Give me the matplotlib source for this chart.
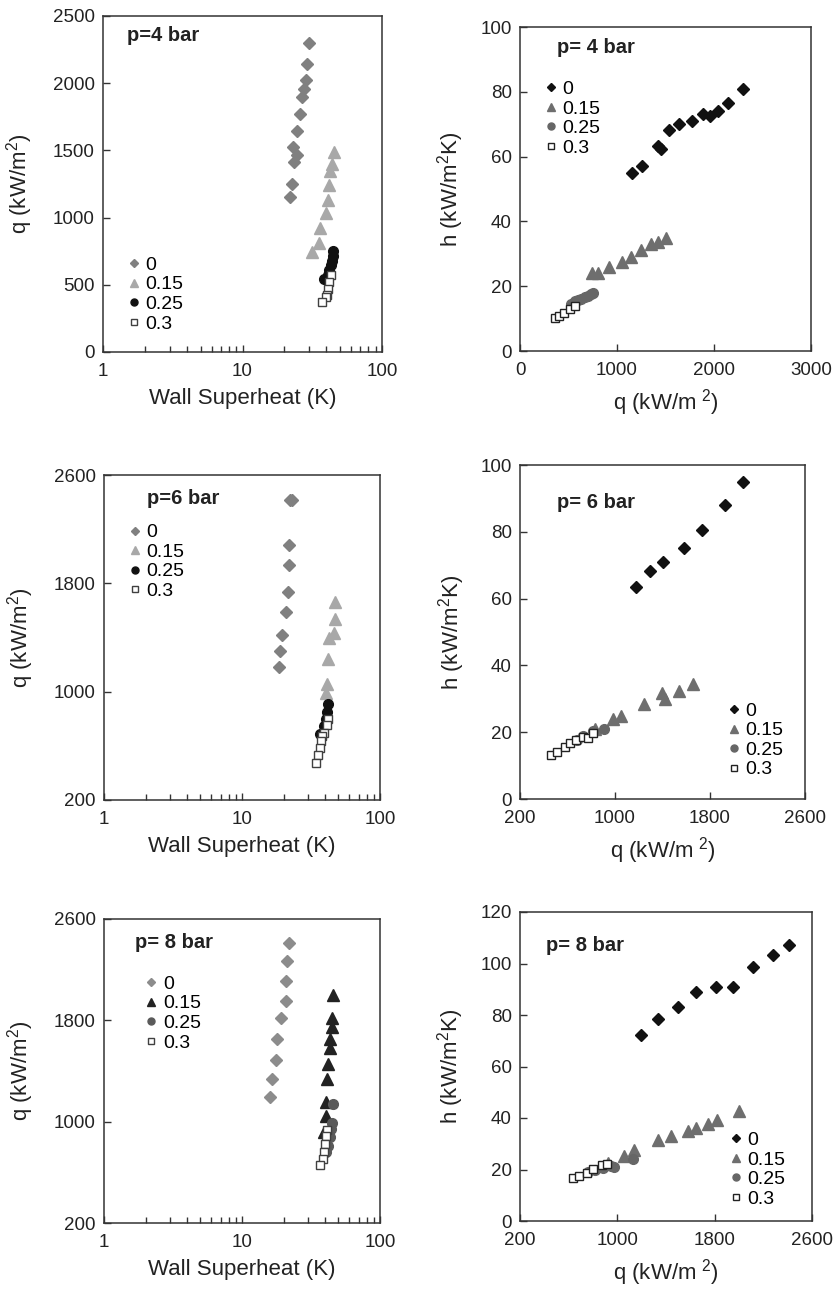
import matplotlib
matplotlib.use("Agg")
import matplotlib.pyplot as plt
from matplotlib.lines import Line2D

plt.rcParams['font.family'] = ['Liberation Sans', 'DejaVu Sans']
plt.rcParams['mathtext.default'] = 'regular'

# ---- p = 4 bar ----
dT4_0 = [29.9, 29.1, 28.3, 27.5, 26.9, 25.7, 24.6, 23.2, 24.6, 23.4, 22.8, 21.8]
q4_0 = [2298, 2145, 2026, 1954, 1897, 1768, 1642, 1528, 1469, 1417, 1250, 1152]
dT4_15 = [45.3, 43.8, 42.6, 41.9, 40.7, 39.9, 36.1, 35.3, 31.6]
q4_15 = [1488, 1402, 1345, 1246, 1129, 1035, 919, 812, 745]
dT4_25 = [44.8, 44.2, 43.5, 42.8, 42.0, 40.8, 38.5]
q4_25 = [755, 715, 680, 645, 610, 575, 545]
dT4_3 = [42.8, 41.7, 41.2, 40.3, 39.5, 37.3]
q4_3 = [574, 520, 470, 421, 411, 374]

qr4_0 = [1156, 1253, 1419, 1453, 1536, 1642, 1770, 1890, 1960, 2039, 2149, 2294]
h4_0 = [55.0, 57.2, 63.4, 62.3, 68.1, 70.2, 71.1, 73.1, 72.6, 74.1, 76.6, 81.0]
qr4_15 = [739, 805, 918, 1047, 1140, 1246, 1346, 1419, 1505]
h4_15 = [24.2, 24.0, 26.0, 27.4, 29.0, 31.2, 33.0, 33.5, 34.8]
qr4_25 = [753, 730, 701, 667, 630, 600, 564, 530]
h4_25 = [17.8, 17.5, 17.1, 16.6, 16.2, 15.8, 15.3, 14.6]
qr4_3 = [360, 401, 450, 512, 564]
h4_3 = [10.1, 10.9, 11.8, 13.1, 14.0]

# ---- p = 6 bar ----
dT6_0 = [22.2, 23.0, 21.8, 21.8, 21.4, 20.7, 19.5, 18.8, 18.4]
q6_0 = [2418, 2413, 2086, 1938, 1736, 1588, 1418, 1300, 1182]
dT6_15 = [47.1, 47.1, 46.3, 42.6, 42.1, 41.4, 40.7]
q6_15 = [1662, 1534, 1431, 1399, 1239, 1059, 993]
dT6_25 = [42.1, 41.4, 40.4, 39.0, 36.9]
q6_25 = [911, 849, 800, 746, 684]
dT6_3 = [42.1, 41.0, 39.0, 38.2, 37.2, 36.5, 35.6, 34.1]
q6_3 = [795, 751, 697, 672, 638, 586, 529, 476]

qr6_0 = [1177, 1295, 1407, 1581, 1730, 1924, 2080]
h6_0 = [63.5, 68.3, 71.0, 75.1, 80.6, 88.1, 94.9]
qr6_15 = [832, 986, 1050, 1242, 1393, 1423, 1536, 1654]
h6_15 = [21.1, 24.1, 24.8, 28.5, 31.8, 30.0, 32.2, 34.3]
qr6_25 = [677, 733, 817, 907]
h6_25 = [17.8, 18.8, 20.3, 21.0]
qr6_3 = [461, 514, 579, 621, 672, 728, 775, 817]
h6_3 = [13.2, 14.2, 15.7, 16.7, 17.7, 18.7, 18.4, 19.7]

# ---- p = 8 bar ----
dT8_0 = [21.8, 21.3, 20.9, 20.7, 19.3, 18.0, 17.5, 16.6, 16.0]
q8_0 = [2412, 2268, 2111, 1949, 1818, 1653, 1489, 1335, 1191]
dT8_15 = [46.0, 45.0, 45.0, 43.5, 43.1, 42.1, 41.4, 40.3, 40.3, 39.6]
q8_15 = [2002, 1818, 1747, 1649, 1583, 1452, 1335, 1157, 1047, 916]
dT8_25 = [45.5, 45.0, 44.3, 43.1, 42.1, 40.7]
q8_25 = [1136, 990, 940, 877, 810, 759]
dT8_3 = [41.4, 40.3, 39.9, 39.2, 38.9, 36.9]
q8_3 = [935, 883, 820, 757, 704, 660]

qr8_0 = [1195, 1335, 1496, 1647, 1811, 1948, 2112, 2276, 2413]
h8_0 = [72.2, 78.3, 83.3, 89.1, 90.8, 90.8, 98.6, 103.4, 107.3]
qr8_15 = [922, 1056, 1141, 1335, 1445, 1581, 1650, 1748, 1822, 2000]
h8_15 = [22.6, 25.4, 27.4, 31.3, 32.9, 34.9, 36.2, 37.7, 39.4, 42.6]
qr8_25 = [760, 820, 880, 945, 975, 1125]
h8_25 = [19.0, 19.8, 20.6, 21.2, 21.0, 23.9]
qr8_3 = [635, 687, 747, 801, 870, 916]
h8_3 = [16.8, 17.4, 18.7, 20.3, 21.6, 22.2]

labels = ['0', '0.15', '0.25', '0.3']
q_ticks_lin = [200, 1000, 1800, 2600]

W, H = 833, 1290
fig = plt.figure(figsize=(W / 100, H / 100), dpi=100)


def make_ax(x0, y0, x1, y1):
    ax = fig.add_axes([x0 / W, 1 - y1 / H, (x1 - x0) / W, (y1 - y0) / H])
    for s in ax.spines.values():
        s.set_linewidth(1.1)
        s.set_color('#333333')
    ax.tick_params(which='both', direction='in', labelsize=13.5, colors='#333333',
                   labelcolor='#222222', width=1)
    ax.tick_params(axis='y', pad=6)
    ax.tick_params(axis='x', which='both', pad=8)
    ax.tick_params(which='major', length=5)
    ax.tick_params(which='minor', length=4)
    return ax


def draw(ax, series, styles):
    for (x, y), (m, ms, fc, ec) in zip(series, styles):
        ax.plot(x, y, ls='none', marker=m, ms=ms, mfc=fc, mec=ec, mew=1)


def legend(ax, styles, anchor):
    handles = [Line2D([], [], ls='none', marker=m, ms=ms * 0.72, mfc=fc, mec=ec, mew=1)
               for (m, ms, fc, ec) in styles]
    ax.legend(handles, labels, loc='upper left', bbox_to_anchor=anchor, frameon=False,
              fontsize=14, labelspacing=0.1, handlelength=0.6, handletextpad=0.3,
              borderpad=0, borderaxespad=0)


def left_panel(ax, series, styles, title, tpos, lpos, yticks):
    draw(ax, series, styles)
    ax.set_xscale('log')
    ax.set_xlim(1, 100)
    ax.set_xticks([1, 10, 100])
    ax.set_xticklabels(['1', '10', '100'])
    ax.set_ylim(yticks[0], yticks[-1])
    ax.set_yticks(yticks)
    ax.set_xlabel('Wall Superheat (K)', fontsize=16, color='#222222', labelpad=6)
    ax.set_ylabel('q (kW/m$^2$)', fontsize=16, color='#222222')
    ax.yaxis.set_label_coords(-0.245, 0.5)
    ax.text(tpos[0], tpos[1], title, transform=ax.transAxes, fontsize=14.5,
            fontweight='bold', ha='left', va='center', color='#222222')
    legend(ax, styles, lpos)


def right_panel(ax, series, styles, title, tpos, lpos, xticks, yticks):
    draw(ax, series, styles)
    ax.set_xlim(xticks[0], xticks[-1])
    ax.set_xticks(xticks)
    ax.set_xticklabels([str(t) for t in xticks])
    ax.set_ylim(yticks[0], yticks[-1])
    ax.set_yticks(yticks)
    ax.set_xlabel('q (kW/m$^{\\ 2}$)', fontsize=16, color='#222222', labelpad=6)
    ax.set_ylabel('h (kW/m$^2$K)', fontsize=16, color='#222222')
    ax.yaxis.set_label_coords(-0.185, 0.5)
    ax.text(tpos[0], tpos[1], title, transform=ax.transAxes, fontsize=14.5,
            fontweight='bold', ha='left', va='center', color='#222222')
    legend(ax, styles, lpos)


sq_l = ('s', 6, 'white', '#404040')
left_a = [('D', 6, '#808080', '#808080'), ('^', 8, '#a8a8a8', '#a8a8a8'),
          ('o', 7, '#111111', '#111111'), sq_l]
left_b = [('D', 6, '#8c8c8c', '#8c8c8c'), ('^', 8, '#222222', '#222222'),
          ('o', 7, '#5a5a5a', '#5a5a5a'), sq_l]
right_s = [('D', 6, '#111111', '#111111'), ('^', 8, '#6e6e6e', '#6e6e6e'),
           ('o', 7, '#666666', '#666666'), ('s', 6, 'white', '#222222')]

ax = make_ax(103, 16, 382, 352)
left_panel(ax, [(dT4_0, q4_0), (dT4_15, q4_15), (dT4_25, q4_25), (dT4_3, q4_3)],
           left_a, 'p=4 bar', (0.086, 0.943), (0.09, 0.285), [0, 500, 1000, 1500, 2000, 2500])

ax = make_ax(520, 27, 811, 351)
right_panel(ax, [(qr4_0, h4_0), (qr4_15, h4_15), (qr4_25, h4_25), (qr4_3, h4_3)],
            right_s, 'p= 4 bar', (0.127, 0.938), (0.086, 0.835),
            [0, 1000, 2000, 3000], [0, 20, 40, 60, 80, 100])

ax = make_ax(104, 475, 380, 800)
left_panel(ax, [(dT6_0, q6_0), (dT6_15, q6_15), (dT6_25, q6_25), (dT6_3, q6_3)],
           left_a, 'p=6 bar', (0.156, 0.929), (0.09, 0.85), q_ticks_lin)

ax = make_ax(520, 465, 805, 799)
right_panel(ax, [(qr6_0, h6_0), (qr6_15, h6_15), (qr6_25, h6_25), (qr6_3, h6_3)],
            right_s, 'p= 6 bar', (0.13, 0.889), (0.73, 0.29),
            q_ticks_lin, [0, 20, 40, 60, 80, 100])

ax = make_ax(104, 919, 380, 1223)
left_panel(ax, [(dT8_0, q8_0), (dT8_15, q8_15), (dT8_25, q8_25), (dT8_3, q8_3)],
           left_b, 'p= 8 bar', (0.112, 0.924), (0.15, 0.815), q_ticks_lin)

ax = make_ax(520, 912, 812, 1221)
right_panel(ax, [(qr8_0, h8_0), (qr8_15, h8_15), (qr8_25, h8_25), (qr8_3, h8_3)],
            right_s, 'p= 8 bar', (0.089, 0.89), (0.72, 0.29),
            q_ticks_lin, [0, 20, 40, 60, 80, 100, 120])

fig.savefig('out.png', dpi=100, facecolor='white')
